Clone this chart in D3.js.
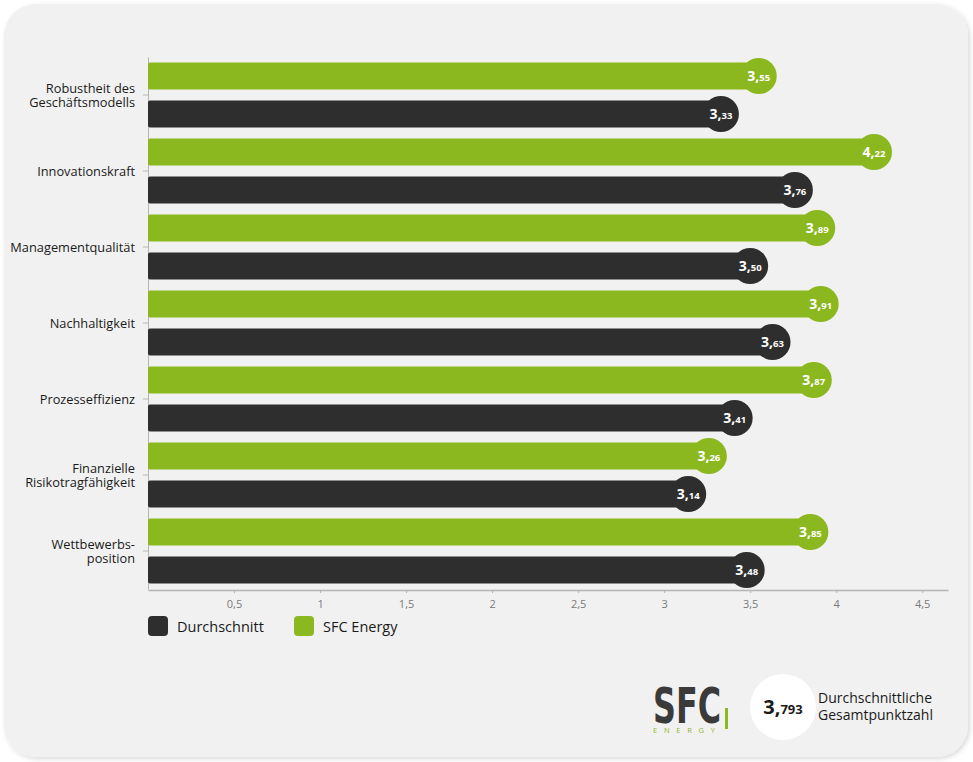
<!DOCTYPE html>
<html><head><meta charset="utf-8">
<script src="https://cdn.jsdelivr.net/npm/d3@7"></script>
<style>
html,body{margin:0;padding:0;background:#ffffff;}
svg{display:block;}
</style></head>
<body>
<svg id="chart" width="973" height="762"></svg>
<script>
const categories = [
  ["Robustheit des","Geschäftsmodells"],
  ["Innovationskraft"],
  ["Managementqualität"],
  ["Nachhaltigkeit"],
  ["Prozesseffizienz"],
  ["Finanzielle","Risikotragfähigkeit"],
  ["Wettbewerbs-","position"]
];
const sfcValues = [3.55, 4.22, 3.89, 3.91, 3.87, 3.26, 3.85];
const avgValues = [3.33, 3.76, 3.50, 3.63, 3.41, 3.14, 3.48];
const seriesNames = ["Durchschnitt", "SFC Energy"];
const tickValues = [0.5, 1, 1.5, 2, 2.5, 3, 3.5, 4, 4.5];
const totalScore = 3.793;

const GREEN = "#8cb81f", DARK = "#2e2e2e", BG = "#f1f1f1";
const FONT = "'Open Sans', sans-serif";

const svg = d3.select("#chart");
const defs = svg.append("defs");
const f = defs.append("filter").attr("id","sh").attr("x","-5%").attr("y","-5%").attr("width","110%").attr("height","110%");
f.append("feDropShadow").attr("dx",2).attr("dy",2).attr("stdDeviation",2.5).attr("flood-color","#000").attr("flood-opacity",0.15);

svg.append("rect").attr("x",4).attr("y",4).attr("width",964).attr("height",753)
  .attr("rx",32).attr("fill",BG).attr("filter","url(#sh)");

const x = d3.scaleLinear().domain([0, 4.65]).range([148, 948]);
const rowKeys = [];
categories.forEach((c,i)=>{ rowKeys.push(i+"-sfc"); rowKeys.push(i+"-avg"); });
const yRow = d3.scaleBand().domain(rowKeys).range([57, 589]).paddingInner(0.29).paddingOuter(0.145);
const yCat = d3.scaleBand().domain(categories.map((c,i)=>i)).range([57, 589]);

// axes
const xAxis = d3.axisBottom(x).tickValues(tickValues).tickSize(3).tickSizeOuter(0)
  .tickFormat(d => String(d).replace(".", ","));
const gx = svg.append("g").attr("transform","translate(0,590)").call(xAxis);
gx.select(".domain").attr("stroke","#b5b5b5").attr("stroke-width",1.5);
gx.selectAll(".tick line").attr("stroke","#b5b5b5");
gx.selectAll(".tick text").attr("fill","#7a7a7a").attr("font-size",11).attr("font-family",FONT).attr("dy","1.1em");

const yAxis = d3.axisLeft(yCat).tickSize(5).tickSizeOuter(0).tickFormat("");
const gy = svg.append("g").attr("transform","translate(148,0)").call(yAxis);
gy.select(".domain").attr("stroke","#b5b5b5");
gy.selectAll(".tick line").attr("stroke","#b5b5b5");

// category labels
categories.forEach((lines,i)=>{
  const cy = yCat(i) + yCat.bandwidth()/2;
  const lh = 14.5;
  lines.forEach((ln,j)=>{
    const yy = lines.length === 1 ? cy + 4.5 : cy - 2.5 + j*lh;
    svg.append("text").attr("x",135).attr("text-anchor","end")
      .attr("font-family",FONT).attr("font-size",12.8).attr("fill","#1a1a1a")
      .attr("y", yy).text(ln);
  });
});

// bars
const rows = [];
categories.forEach((c,i)=>{
  rows.push({key:i+"-sfc", v:sfcValues[i], color:GREEN});
  rows.push({key:i+"-avg", v:avgValues[i], color:DARK});
});
const g = svg.append("g");
g.selectAll("rect.bar").data(rows).join("rect").attr("class","bar")
  .attr("x", x(0)).attr("y", d=>yRow(d.key))
  .attr("width", d=>x(d.v)-x(0)).attr("height", yRow.bandwidth())
  .attr("rx",2).attr("fill", d=>d.color);
g.selectAll("circle.end").data(rows).join("circle").attr("class","end")
  .attr("cx", d=>x(d.v)).attr("cy", d=>yRow(d.key)+yRow.bandwidth()/2)
  .attr("r",18).attr("fill", d=>d.color);
const lbl = g.selectAll("text.val").data(rows).join("text").attr("class","val")
  .attr("x", d=>x(d.v)).attr("y", d=>yRow(d.key)+yRow.bandwidth()/2+5)
  .attr("text-anchor","middle").attr("font-family",FONT).attr("font-weight",700).attr("fill","#fff");
lbl.each(function(d){
  const s = d.v.toFixed(2).split(".");
  const t = d3.select(this);
  t.append("tspan").attr("font-size",14).text(s[0]+",");
  t.append("tspan").attr("font-size",9.5).text(s[1]);
});

// legend
const legend = [{name:seriesNames[0], color:DARK, x:148},{name:seriesNames[1], color:GREEN, x:294}];
const lg = svg.selectAll("g.leg").data(legend).join("g").attr("class","leg")
  .attr("transform", d=>`translate(${d.x},616)`);
lg.append("rect").attr("width",20).attr("height",20).attr("rx",4).attr("fill",d=>d.color);
lg.append("text").attr("x",29).attr("y",15.5).attr("font-family",FONT).attr("font-size",14.5)
  .attr("fill","#1a1a1a").text(d=>d.name);

// logo
const logo = svg.append("g");
logo.append("text").attr("x",653).attr("y",723).attr("font-family","'DejaVu Sans', sans-serif")
  .attr("font-weight",700).attr("font-size",49).attr("fill","#3a3a3a")
  .attr("textLength",68).attr("lengthAdjust","spacingAndGlyphs").text("SFC");
logo.append("text").attr("x",653).attr("y",733).attr("font-family",FONT)
  .attr("font-size",7.5).attr("fill",GREEN).attr("textLength",62).attr("lengthAdjust","spacing").text("ENERGY");
logo.append("rect").attr("x",725).attr("y",708).attr("width",3).attr("height",21).attr("fill",GREEN);

// total score
svg.append("circle").attr("cx",783).attr("cy",707).attr("r",33).attr("fill","#fff");
const ts = svg.append("text").attr("x",783).attr("y",714).attr("text-anchor","middle")
  .attr("font-family",FONT).attr("font-weight",700).attr("fill","#1a1a1a");
const tsParts = totalScore.toFixed(3).split(".");
ts.append("tspan").attr("font-size",20).text(tsParts[0]+",");
ts.append("tspan").attr("font-size",13).text(tsParts[1]);
svg.append("text").attr("x",818).attr("y",703).attr("font-family",FONT).attr("font-size",14)
  .attr("fill","#1a1a1a").text("Durchschnittliche");
svg.append("text").attr("x",818).attr("y",720).attr("font-family",FONT).attr("font-size",14)
  .attr("fill","#1a1a1a").text("Gesamtpunktzahl");
</script>
</body></html>
